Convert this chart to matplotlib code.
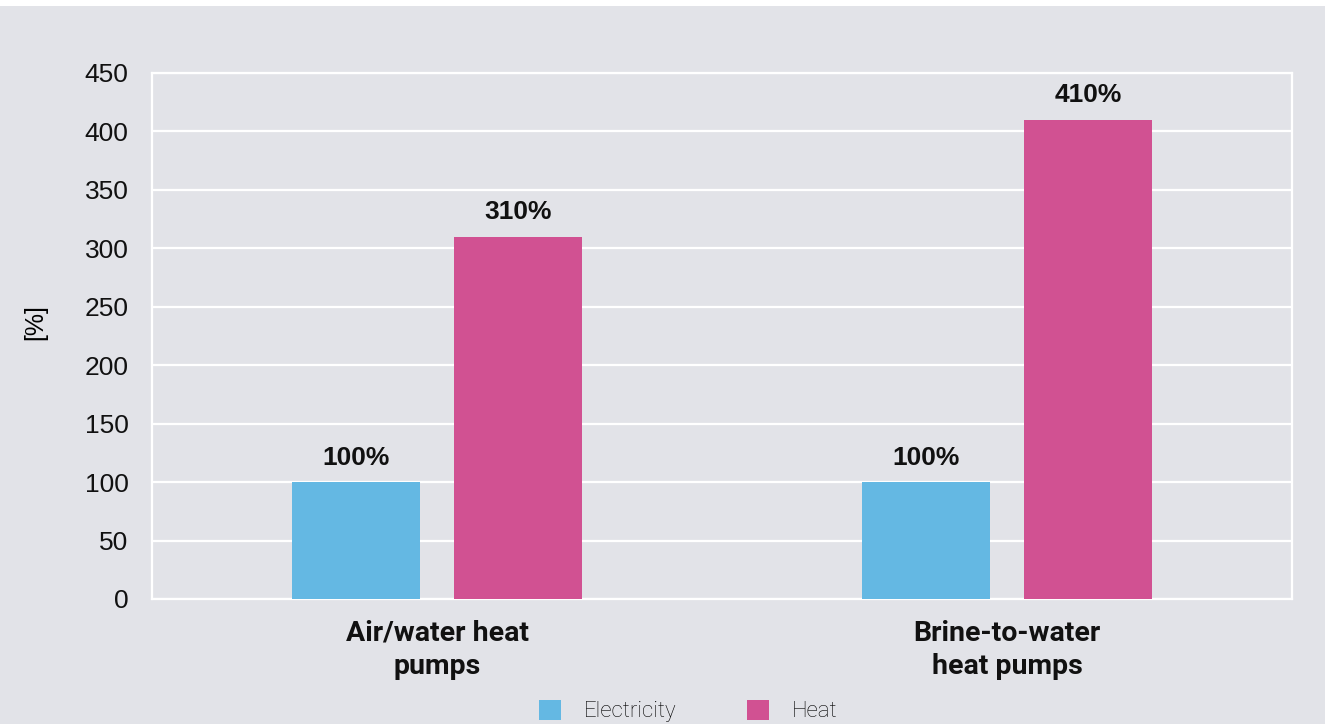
import matplotlib
matplotlib.use("Agg")
import matplotlib.pyplot as plt
from matplotlib.patches import Patch, Rectangle
import numpy as np

# Data
categories = ["Air/water heat\npumps", "Brine-to-water\nheat pumps"]
series_names = ["Electricity", "Heat"]
electricity = [100, 100]
heat = [310, 410]
yticks = [0, 50, 100, 150, 200, 250, 300, 350, 400, 450]

BG = "#e2e3e8"
C_ELEC = "#64b8e3"
C_HEAT = "#d15192"

fig = plt.figure(figsize=(13.25, 7.24), dpi=100, facecolor=BG)
# thin white band along the top edge
fig.patches.append(Rectangle((0, 1 - 6 / 724), 1, 6 / 724, transform=fig.transFigure,
                             facecolor="white", edgecolor="none", zorder=0))

ax = fig.add_axes([152 / 1325, 1 - 599 / 724, 1140 / 1325, 526 / 724])
ax.set_facecolor(BG)

x = np.arange(len(categories))
width = 0.225
offset = 0.1425
b1 = ax.bar(x - offset, electricity, width, color=C_ELEC, zorder=3)
b2 = ax.bar(x + offset, heat, width, color=C_HEAT, zorder=3)

for bars, vals in ((b1, electricity), (b2, heat)):
    for rect, v in zip(bars, vals):
        ax.annotate(f"{v}%", (rect.get_x() + rect.get_width() / 2, v),
                    xytext=(0, 9), textcoords="offset points",
                    ha="center", va="bottom", fontsize=19, fontweight="bold",
                    family="Liberation Sans", color="#111111")

ax.set_xlim(-0.5, 1.5)
ax.set_ylim(0, 450)
ax.set_yticks(yticks)
ax.set_yticklabels([str(t) for t in yticks], family="Liberation Sans", fontsize=19)
ax.set_xticks(x)
ax.set_xticklabels(categories, family="Roboto", fontweight="bold", fontsize=20.5,
                   linespacing=1.28)
ax.tick_params(axis="both", length=0, colors="#111111")
ax.tick_params(axis="y", pad=17)
ax.tick_params(axis="x", pad=15)

ax.yaxis.grid(True, color="white", linewidth=1.6, zorder=1)
ax.set_axisbelow(True)
for s in ax.spines.values():
    s.set_color("white")
    s.set_linewidth(1.6)

ax.set_ylabel("[%]", family="Liberation Sans", fontsize=18)
ax.yaxis.set_label_coords((47 - 152) / 1140, (599 - 322) / 526)

handles = [Patch(facecolor=C_ELEC, edgecolor="none"), Patch(facecolor=C_HEAT, edgecolor="none")]
leg = fig.legend(handles, series_names, loc="center left",
                 bbox_to_anchor=(539 / 1325, 1 - 711 / 724), ncol=2, frameon=False,
                 prop={"family": "Roboto", "weight": "light", "size": 16},
                 handlelength=1.0, handleheight=1.0, handletextpad=1.0,
                 columnspacing=3.2, borderpad=0, borderaxespad=0)

fig.savefig("out.png", dpi=100, facecolor=BG)
